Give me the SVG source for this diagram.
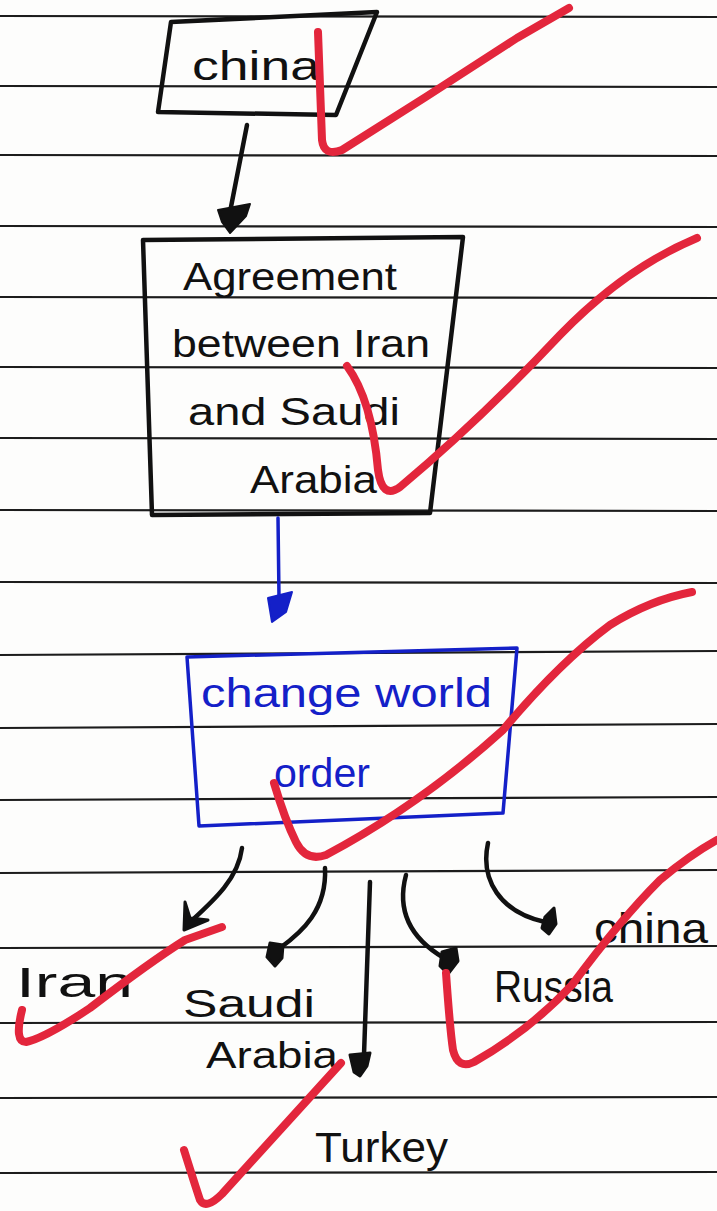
<svg xmlns="http://www.w3.org/2000/svg" width="717" height="1211" viewBox="0 0 717 1211">
<style>
.rule{stroke:#1c1c1c;stroke-width:2.2;fill:none}
.ink{stroke:#111;stroke-width:4.5;fill:none;stroke-linecap:round;stroke-linejoin:round}
.blue{stroke:#1420c8;stroke-width:3.5;fill:none;stroke-linecap:round;stroke-linejoin:round}
.red{stroke:#e3263c;stroke-width:8;fill:none;stroke-linecap:round;stroke-linejoin:round}
.t{font-family:"Liberation Sans","DejaVu Sans",sans-serif;fill:#111}
.tb{font-family:"Liberation Sans","DejaVu Sans",sans-serif;fill:#1420c8}
</style>
<rect width="717" height="1211" fill="#fdfdfc"/>
<g id="paper-lines">
<line class="rule" x1="0" y1="16" x2="717" y2="17"/>
<line class="rule" x1="0" y1="86" x2="717" y2="87"/>
<line class="rule" x1="0" y1="155" x2="717" y2="156"/>
<line class="rule" x1="0" y1="226" x2="717" y2="227"/>
<line class="rule" x1="0" y1="297" x2="717" y2="298"/>
<line class="rule" x1="0" y1="367" x2="717" y2="368"/>
<line class="rule" x1="0" y1="438" x2="717" y2="439"/>
<line class="rule" x1="0" y1="510" x2="717" y2="511"/>
<line class="rule" x1="0" y1="582" x2="717" y2="583"/>
<line class="rule" x1="0" y1="655" x2="717" y2="651"/>
<line class="rule" x1="0" y1="728" x2="717" y2="724"/>
<line class="rule" x1="0" y1="800" x2="717" y2="797"/>
<line class="rule" x1="0" y1="873" x2="717" y2="870"/>
<line class="rule" x1="0" y1="948" x2="717" y2="946"/>
<line class="rule" x1="0" y1="1023" x2="717" y2="1022"/>
<line class="rule" x1="0" y1="1098" x2="717" y2="1097"/>
<line class="rule" x1="0" y1="1173" x2="717" y2="1172"/>
</g>
<g id="node-china-top">
<path class="ink" d="M171,22 L377,12 L336,115 L158,112 Z" stroke-width="5"/>
<text class="t" x="192" y="80" font-size="40" textLength="128" lengthAdjust="spacingAndGlyphs">china</text>
</g>
<g id="node-agreement">
<path class="ink" d="M143,240 L463,237 L430,513 L152,515 Z" stroke-width="5"/>
<text class="t" x="183" y="290" font-size="38" textLength="214" lengthAdjust="spacingAndGlyphs">Agreement</text>
<text class="t" x="172" y="357" font-size="38" textLength="258" lengthAdjust="spacingAndGlyphs">between Iran</text>
<text class="t" x="188" y="425" font-size="38" textLength="212" lengthAdjust="spacingAndGlyphs">and Saudi</text>
<text class="t" x="250" y="493" font-size="38" textLength="127" lengthAdjust="spacingAndGlyphs">Arabia</text>
</g>
<g id="node-change-world-order">
<path class="blue" d="M187,657 L517,648 L503,813 L199,826 Z"/>
<text class="tb" x="201" y="707" font-size="40" textLength="291" lengthAdjust="spacingAndGlyphs">change world</text>
<text class="tb" x="274" y="787" font-size="40" textLength="96" lengthAdjust="spacingAndGlyphs">order</text>
</g>
<g id="node-iran">
<text class="t" x="16" y="997" font-size="42" textLength="117" lengthAdjust="spacingAndGlyphs">Iran</text>
</g>
<g id="node-saudi-arabia">
<text class="t" x="183" y="1017" font-size="38" textLength="132" lengthAdjust="spacingAndGlyphs">Saudi</text>
<text class="t" x="206" y="1068" font-size="36" textLength="132" lengthAdjust="spacingAndGlyphs">Arabia</text>
</g>
<g id="node-turkey">
<text class="t" x="315" y="1162" font-size="42" textLength="133" lengthAdjust="spacingAndGlyphs">Turkey</text>
</g>
<g id="node-russia">
<text class="t" x="494" y="1002" font-size="44" textLength="119" lengthAdjust="spacingAndGlyphs">Russia</text>
</g>
<g id="node-china-bottom">
<text class="t" x="594" y="943" font-size="42" textLength="114" lengthAdjust="spacingAndGlyphs">china</text>
</g>
<g id="connectors">
<path class="ink" d="M247,125 L230,212"/>
<path d="M218,210 L250,204 L246,216 L230,233 L222,222 Z" fill="#111" stroke="#111" stroke-width="2" stroke-linejoin="round"/>
<path class="blue" d="M278,518 L279,598"/>
<path d="M268,598 L292,592 L286,612 L272,622 L270,610 Z" fill="#1420c8" stroke="#1420c8" stroke-width="2" stroke-linejoin="round"/>
<path class="ink" d="M242,848 C238,880 212,902 188,924" stroke-width="3.5"/>
<path d="M185,902 L190,918 L208,920 L184,930 Z" fill="#111" stroke="#111" stroke-width="3" stroke-linejoin="round"/>
<path class="ink" d="M325,868 C327,910 302,932 280,948" stroke-width="3.5"/>
<path d="M270,943 L283,945 L282,958 L275,966 L267,957 Z" fill="#111" stroke="#111" stroke-width="3" stroke-linejoin="round"/>
<path class="ink" d="M370,882 L364,1055" stroke-width="3.5"/>
<path d="M350,1055 L370,1053 L367,1066 L360,1076 L354,1072 Z" fill="#111" stroke="#111" stroke-width="3" stroke-linejoin="round"/>
<path class="ink" d="M406,875 C398,905 405,935 444,958" stroke-width="3.5"/>
<path d="M442,952 L456,948 L458,961 L448,974 L440,966 Z" fill="#111" stroke="#111" stroke-width="3" stroke-linejoin="round"/>
<path class="ink" d="M488,843 C480,880 500,912 545,922" stroke-width="3.5"/>
<path d="M545,917 L554,908 L556,924 L549,934 L542,928 Z" fill="#111" stroke="#111" stroke-width="3" stroke-linejoin="round"/>
</g>
<g id="check-marks">
<path class="red" d="M318,32 L322,140 Q324,157 342,150 Q430,95 517,38 L569,8"/>
<path class="red" d="M347,366 Q372,400 378,470 Q382,500 400,487 Q480,420 560,335 Q625,268 697,238"/>
<path class="red" d="M274,783 Q285,820 296,842 Q306,862 326,855 Q420,805 503,730 Q560,662 610,625 Q650,600 692,592"/>
<path class="red" d="M22,1010 Q14,1042 26,1042 Q45,1038 90,1008 Q150,962 185,940 L222,927"/>
<path class="red" d="M446,973 Q450,1030 453,1050 Q458,1070 474,1062 Q530,1030 572,985 Q620,920 660,880 Q690,855 717,840"/>
<path class="red" d="M184,1150 Q195,1185 200,1200 Q206,1210 222,1194 Q280,1130 341,1063"/>
</g>
</svg>
